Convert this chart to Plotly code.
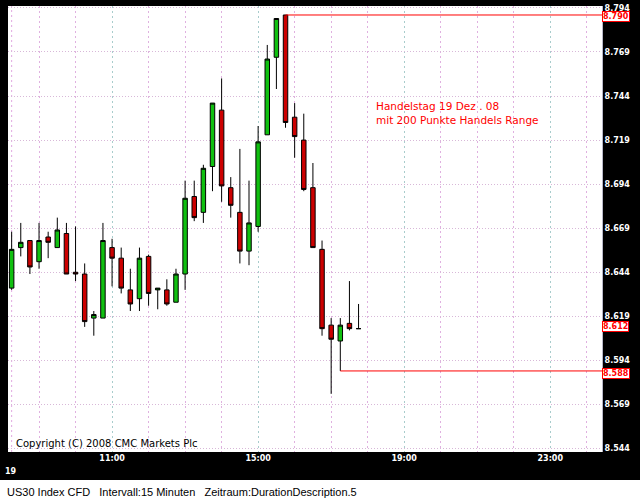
import plotly.graph_objects as go

# ---- data ----
times = ["2008-12-19 08:15", "2008-12-19 08:30", "2008-12-19 08:45", "2008-12-19 09:00",
         "2008-12-19 09:15", "2008-12-19 09:30", "2008-12-19 09:45", "2008-12-19 10:00",
         "2008-12-19 10:15", "2008-12-19 10:30", "2008-12-19 10:45", "2008-12-19 11:00",
         "2008-12-19 11:15", "2008-12-19 11:30", "2008-12-19 11:45", "2008-12-19 12:00",
         "2008-12-19 12:15", "2008-12-19 12:30", "2008-12-19 12:45", "2008-12-19 13:00",
         "2008-12-19 13:15", "2008-12-19 13:30", "2008-12-19 13:45", "2008-12-19 14:00",
         "2008-12-19 14:15", "2008-12-19 14:30", "2008-12-19 14:45", "2008-12-19 15:00",
         "2008-12-19 15:15", "2008-12-19 15:30", "2008-12-19 15:45", "2008-12-19 16:00",
         "2008-12-19 16:15", "2008-12-19 16:30", "2008-12-19 16:45", "2008-12-19 17:00",
         "2008-12-19 17:15", "2008-12-19 17:30", "2008-12-19 17:45"]
opens = [8.635, 8.658, 8.662, 8.650, 8.664, 8.658, 8.666, 8.644, 8.643, 8.618,
         8.618, 8.658, 8.652, 8.634, 8.629, 8.653, 8.634, 8.634, 8.627, 8.643,
         8.687, 8.678, 8.704, 8.736, 8.692, 8.678, 8.656, 8.670, 8.722, 8.766,
         8.790, 8.732, 8.719, 8.692, 8.657, 8.614, 8.605, 8.615, 8.612]
highs = [8.667, 8.672, 8.662, 8.672, 8.667, 8.675, 8.672, 8.670, 8.649, 8.622,
         8.672, 8.663, 8.658, 8.646, 8.658, 8.654, 8.635, 8.640, 8.646, 8.696,
         8.696, 8.705, 8.740, 8.754, 8.698, 8.714, 8.696, 8.727, 8.773, 8.788,
         8.790, 8.740, 8.734, 8.706, 8.662, 8.618, 8.618, 8.639, 8.626]
lows = [8.634, 8.653, 8.643, 8.646, 8.652, 8.658, 8.643, 8.639, 8.613, 8.608,
        8.618, 8.636, 8.632, 8.622, 8.622, 8.625, 8.623, 8.625, 8.627, 8.634,
        8.673, 8.672, 8.690, 8.684, 8.675, 8.649, 8.648, 8.667, 8.722, 8.748,
        8.726, 8.709, 8.690, 8.658, 8.608, 8.575, 8.588, 8.611, 8.612]
closes = [8.657, 8.661, 8.647, 8.662, 8.661, 8.668, 8.643, 8.643, 8.616, 8.620,
          8.662, 8.652, 8.635, 8.626, 8.652, 8.632, 8.635, 8.626, 8.643, 8.686,
          8.675, 8.703, 8.740, 8.693, 8.682, 8.656, 8.672, 8.718, 8.765, 8.788,
          8.729, 8.721, 8.691, 8.658, 8.612, 8.606, 8.614, 8.612, 8.612]

y_ticks = [8.544, 8.569, 8.594, 8.619, 8.644, 8.669, 8.694, 8.719, 8.744, 8.769, 8.794]
y_tick_labels = ["8.544", "8.569", "8.594", "8.619", "8.644", "8.669", "8.694",
                 "8.719", "8.744", "8.769", "8.794"]
x_ticks = ["2008-12-19 11:00", "2008-12-19 15:00", "2008-12-19 19:00", "2008-12-19 23:00"]
x_tick_labels = ["11:00", "15:00", "19:00", "23:00"]

range_high = 8.790
range_high_time = "2008-12-19 15:45"
range_low = 8.588
range_low_time = "2008-12-19 17:15"
last_price = 8.612

x_range = ["2008-12-19 08:09", "2008-12-20 00:25"]
y_range = [8.5420, 8.7951]

fig = go.Figure()
fig.add_trace(go.Candlestick(
    x=times, open=opens, high=highs, low=lows, close=closes,
    increasing=dict(line=dict(color="#000000", width=1), fillcolor="#10c010"),
    decreasing=dict(line=dict(color="#000000", width=1), fillcolor="#cc0000"),
    whiskerwidth=0, showlegend=False, hoverinfo="skip",
))

shapes = [
    # range lines
    dict(type="line", xref="x", yref="y", x0=range_high_time, x1=x_range[1],
         y0=range_high, y1=range_high, line=dict(color="#ff0000", width=1)),
    dict(type="line", xref="x", yref="y", x0=range_low_time, x1=x_range[1],
         y0=range_low, y1=range_low, line=dict(color="#ff0000", width=1)),
    # day separator
    dict(type="line", xref="x", yref="paper", x0=times[0], x1=times[0], y0=0, y1=1,
         line=dict(color="#e0a8e0", width=1, dash="2px,3px"), layer="below"),
    # bottom white strip
    dict(type="rect", xref="paper", yref="paper", x0=-0.02, x1=1.08,
         y0=-0.1075, y1=-0.0625, fillcolor="#ffffff", line=dict(width=0), layer="above"),
]

annotations = [
    dict(xref="paper", yref="paper", x=(374 - 8) / 594, y=0.760, xanchor="left", yanchor="middle",
         align="left", showarrow=False,
         text="Handelstag 19 Dez . 08<br>mit 200 Punkte Handels Range",
         font=dict(family="DejaVu Sans", size=10.5, color="#ff0000")),
    dict(xref="paper", yref="paper", x=0.010, y=(452 - 443) / 448, xanchor="left",
         yanchor="middle", showarrow=False, text="Copyright (C) 2008 CMC Markets Plc",
         font=dict(family="DejaVu Sans", size=10, color="#000000")),
    dict(xref="paper", yref="paper", x=(11 - 8) / 594, y=(452 - 472) / 448, xanchor="center",
         yanchor="middle", showarrow=False, text="19",
         font=dict(family="DejaVu Sans", size=8, color="#ffffff", weight="bold")),
    dict(xref="paper", yref="paper", x=(5 - 8) / 594, y=(452 - 492) / 448, xanchor="left",
         yanchor="middle", showarrow=False,
         text="US30 Index CFD&nbsp;&nbsp;&nbsp;Intervall:15 Minuten&nbsp;&nbsp;&nbsp;Zeitraum:DurationDescription.5",
         font=dict(family="Liberation Sans", size=11, color="#000000")),
]
for val, lbl, shift in [(range_high, "8.790", -1.5), (last_price, "8.612", 2), (range_low, "8.588", -3)]:
    annotations.append(dict(
        xref="paper", yref="y", x=1.0, y=val, xanchor="left", yanchor="middle",
        showarrow=False, text=lbl, yshift=shift,
        font=dict(family="DejaVu Sans", size=8, color="#ff0000", weight="bold"),
        bgcolor="#ffffff", bordercolor="#ff0000", borderwidth=1, borderpad=0))

fig.update_layout(
    width=640, height=500,
    margin=dict(l=8, r=38, t=4, b=48),
    paper_bgcolor="#000000", plot_bgcolor="#ffffff",
    shapes=shapes, annotations=annotations,
    xaxis=dict(
        type="date", range=x_range, rangeslider=dict(visible=False),
        tickvals=x_ticks, ticktext=x_tick_labels, ticks="",
        tickfont=dict(family="DejaVu Sans", size=8, color="#ffffff", weight="bold"),
        showgrid=True, gridcolor="#a8cccc", griddash="2px,3px", gridwidth=1,
        minor=dict(dtick=3600000, tick0="2008-12-19 00:00", showgrid=True,
                   gridcolor="#e0b0e0", griddash="2px,3px", gridwidth=1),
        zeroline=False, showline=False, fixedrange=True,
    ),
    yaxis=dict(
        side="right", range=y_range, tickvals=y_ticks, ticktext=y_tick_labels, ticks="",
        tickfont=dict(family="DejaVu Sans", size=8, color="#ffffff", weight="bold"),
        showgrid=True, gridcolor="#d8b8d8", griddash="1px,2px", gridwidth=1,
        zeroline=False, showline=True, linecolor="#b8b8c8", linewidth=1, fixedrange=True,
    ),
)

fig.write_html(
    "out.html",
    config=dict(displayModeBar=False),
    post_script="document.body.style.margin='0';document.body.style.overflow='hidden';",
)
